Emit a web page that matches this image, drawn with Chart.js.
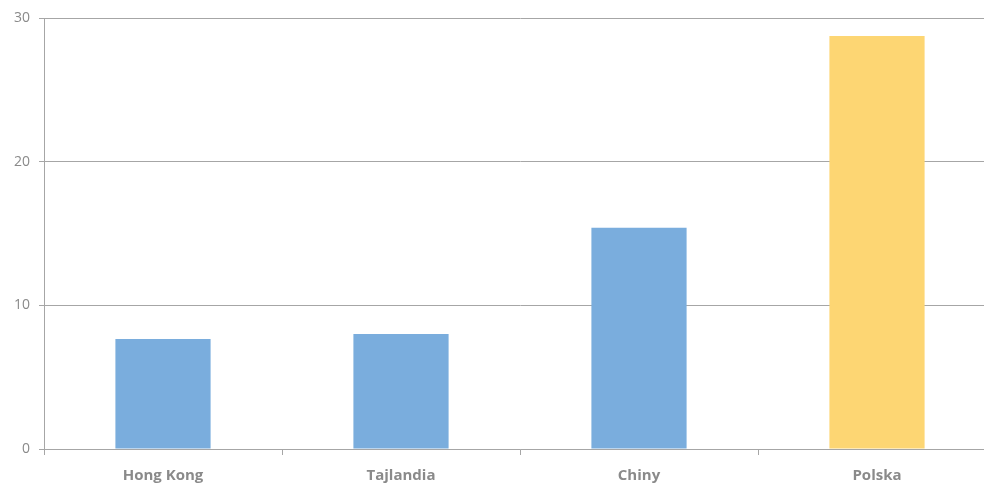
<!DOCTYPE html>
<html>
<head>
<meta charset="utf-8">
<script src="https://cdn.jsdelivr.net/npm/chart.js@4"></script>
<style>
  html, body { margin: 0; padding: 0; background: #fff; overflow: hidden; }
  #wrap { width: 1000px; height: 483px; }
</style>
</head>
<body>
<div id="wrap"><canvas id="chart"></canvas></div>
<script>
// data
const categories = ['Hong Kong', 'Tajlandia', 'Chiny', 'Polska'];
const values = [7.65, 8.0, 15.4, 28.75];
const barColors = ['#7aaddd', '#7aaddd', '#7aaddd', '#fdd673'];
const yTicks = [0, 10, 20, 30];

const gray = '#8a8a8a';
const lineGray = '#a6a6a6';

const ctx = document.getElementById('chart').getContext('2d');
new Chart(ctx, {
    type: 'bar',
    data: {
        labels: categories,
        datasets: [{
            data: values,
            backgroundColor: barColors,
            borderWidth: 0,
            barPercentage: 0.4,
            categoryPercentage: 1.0
        }]
    },
    options: {
        responsive: true,
        maintainAspectRatio: false,
        animation: false,
        layout: { padding: { top: 18, right: 4, bottom: 0, left: 0 } },
        plugins: {
            legend: { display: false },
            tooltip: { enabled: false }
        },
        scales: {
            x: {
                afterFit: (s) => { s.height = 34; },
                border: { color: lineGray, width: 1 },
                grid: { drawOnChartArea: false, offset: true, tickLength: 6, color: lineGray },
                ticks: {
                    color: gray,
                    padding: 12,
                    font: { family: 'Open Sans', size: 15, weight: 'bold' }
                }
            },
            y: {
                min: 0,
                max: 30,
                afterFit: (s) => { s.width = 44; },
                afterBuildTicks: (s) => { s.ticks = yTicks.map(v => ({ value: v })); },
                border: { color: lineGray, width: 1 },
                grid: { color: lineGray, tickLength: 5 },
                ticks: {
                    color: gray,
                    padding: 9,
                    font: { family: 'Open Sans', size: 14 }
                }
            }
        }
    }
});
</script>
</body>
</html>
